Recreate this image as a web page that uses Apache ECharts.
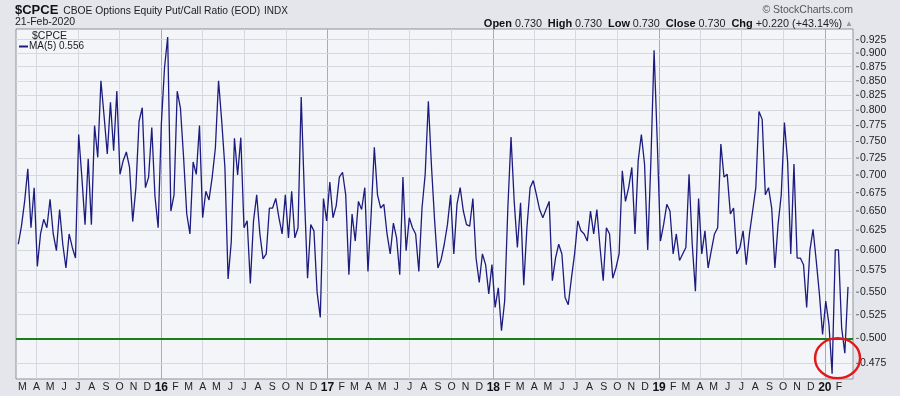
<!DOCTYPE html>
<html><head><meta charset="utf-8">
<script src="https://cdn.jsdelivr.net/npm/echarts@6/dist/echarts.min.js"></script>
<style>html,body{margin:0;padding:0;background:#e4e6eb}#c{width:900px;height:396px}</style>
</head><body><div id="c"></div>
<script>
// ---- data (weekly readings of the MA(5) line, Fridays) ----
const firstWeek = [2015, 1, 20];          // 20-Feb-2015
const putCallMA5 = [
0.607,0.630,0.663,0.709,0.628,0.682,0.580,0.620,0.639,0.628,
0.666,0.620,0.599,0.652,0.607,0.578,0.620,0.603,0.590,0.761,
0.697,0.632,0.724,0.632,0.775,0.726,0.850,0.790,0.731,0.813,
0.736,0.832,0.701,0.721,0.734,0.711,0.636,0.682,0.782,0.804,
0.682,0.697,0.772,0.670,0.628,0.777,0.873,0.930,0.650,0.672,
0.832,0.804,0.726,0.646,0.620,0.719,0.701,0.775,0.641,0.677,
0.665,0.697,0.740,0.850,0.782,0.711,0.565,0.610,0.755,0.700,
0.756,0.628,0.637,0.560,0.637,0.672,0.620,0.589,0.595,0.654,
0.654,0.667,0.641,0.620,0.672,0.615,0.677,0.615,0.628,0.822,
0.672,0.566,0.632,0.624,0.550,0.522,0.667,0.637,0.690,0.641,
0.657,0.697,0.704,0.672,0.570,0.646,0.611,0.663,0.652,0.682,
0.574,0.646,0.741,0.672,0.654,0.659,0.620,0.595,0.634,0.615,
0.570,0.697,0.599,0.641,0.628,0.620,0.574,0.654,0.701,0.815,
0.711,0.635,0.578,0.588,0.607,0.632,0.672,0.595,0.659,0.682,
0.650,0.632,0.630,0.667,0.590,0.561,0.595,0.582,0.548,0.582,
0.533,0.555,0.508,0.540,0.654,0.757,0.663,0.603,0.661,0.558,
0.628,0.682,0.692,0.672,0.652,0.641,0.652,0.663,0.563,0.590,
0.607,0.595,0.544,0.536,0.566,0.595,0.637,0.624,0.620,0.611,
0.650,0.620,0.652,0.603,0.563,0.628,0.620,0.566,0.578,0.595,
0.706,0.663,0.682,0.711,0.620,0.721,0.761,0.716,0.600,0.721,
0.905,0.750,0.611,0.632,0.659,0.650,0.595,0.620,0.587,0.595,
0.603,0.701,0.607,0.551,0.667,0.595,0.624,0.578,0.599,0.620,
0.628,0.746,0.697,0.701,0.646,0.654,0.595,0.603,0.624,0.582,
0.620,0.650,0.682,0.798,0.785,0.672,0.682,0.654,0.578,0.632,
0.672,0.780,0.720,0.595,0.716,0.590,0.590,0.582,0.533,0.599,
0.626,0.587,0.548,0.504,0.540,0.515,0.465,0.600,0.600,0.511,
0.485,0.556
];
const referenceLevel = 0.500;
const yTickValues = [0.475,0.500,0.525,0.550,0.575,0.600,0.625,0.650,0.675,0.700,0.725,0.750,0.775,0.800,0.825,0.850,0.875,0.900,0.925];
const monthLetters = ['J','F','M','A','M','J','J','A','S','O','N','D'];
const axisStart = [2015, 1, 15];
const axisEnd = [2020, 2, 3];
const firstMonth = [2015, 2];   // March 2015
const lastMonth = [2020, 1];    // February 2020
const quoteLabels = ['Open','High','Low','Close','Chg'];
const quoteValues = ['0.730','0.730','0.730','0.730','+0.220 (+43.14%)'];
const circleCenter = [[2020, 0, 29], 0.480];

// ---- build ----
const DAY = 86400000;
const t0 = Date.UTC(...firstWeek);
const seriesData = putCallMA5.map((v, i) => [t0 + i * 7 * DAY, v]);
const monthStarts = [];
const quarterStarts = [];
for (let y = firstMonth[0], m = firstMonth[1]; y < lastMonth[0] || (y === lastMonth[0] && m <= lastMonth[1]); ) {
  const t = Date.UTC(y, m, 1);
  monthStarts.push(t);
  if (m % 3 === 0) quarterStarts.push(t);
  m++; if (m > 11) { m = 0; y++; }
}
const lastVal = putCallMA5[putCallMA5.length - 1];
const seriesName = 'MA(5) ' + lastVal.toFixed(3);
const FONT = '"Liberation Sans", Arial, sans-serif';

const quoteText = quoteLabels.map((l, i) => '{k|' + l + '} {v|' + quoteValues[i] + '}').join('  ') + ' {u|▲}';

const chart = echarts.init(document.getElementById('c'), null, {renderer: 'canvas'});
chart.setOption({
  animation: false,
  backgroundColor: '#e4e6eb',
  textStyle: {fontFamily: FONT},
  title: [
    {left: 15, top: 3.5, padding: 0, text: '{a|$CPCE} {b|CBOE Options Equity Put/Call Ratio (EOD)} {c|INDX}',
     textStyle: {fontWeight: 'normal', fontSize: 10.5, fontFamily: FONT, rich: {
       a: {fontSize: 13, fontWeight: 'bold', color: '#111', fontFamily: FONT},
       b: {fontSize: 10.3, fontWeight: 'normal', color: '#222', fontFamily: FONT, padding: [2, 0, 0, 2]},
       c: {fontSize: 10, fontWeight: 'normal', color: '#222', fontFamily: FONT, padding: [2, 0, 0, 1]}}}},
    {left: 15, top: 17, padding: 0, text: '21-Feb-2020', textStyle: {fontSize: 10.5, fontWeight: 'normal', color: '#222', fontFamily: FONT}},
    {right: 47, top: 5, padding: 0, text: '© StockCharts.com', textStyle: {fontSize: 10.5, fontWeight: 'normal', color: '#555', fontFamily: FONT}},
    {right: 47, top: 18.5, padding: 0, text: quoteText,
     textStyle: {fontWeight: 'normal', fontSize: 10.5, fontFamily: FONT, rich: {
       k: {fontSize: 11, fontWeight: 'bold', color: '#111', fontFamily: FONT},
       v: {fontSize: 10.8, fontWeight: 'normal', color: '#222', fontFamily: FONT},
       u: {fontSize: 8, fontWeight: 'normal', color: '#999', fontFamily: FONT}}}},
    {left: 32, top: 31, padding: 0, text: '$CPCE', textStyle: {fontSize: 10.5, fontWeight: 'normal', color: '#222', fontFamily: FONT}}
  ],
  legend: {
    left: 19, top: 41.5, padding: 0, itemWidth: 9, itemHeight: 2, itemGap: 4,
    icon: 'rect',
    textStyle: {fontSize: 10, color: '#222', fontFamily: FONT, padding: [0, 0, 0, -4]},
    data: [seriesName]
  },
  grid: {left: 16, right: 47, top: 29, bottom: 17, show: true,
         backgroundColor: '#f4f5f9', borderColor: '#8d9199', borderWidth: 1},
  xAxis: {
    type: 'value',
    min: Date.UTC(...axisStart), max: Date.UTC(...axisEnd),
    axisLine: {show: false},
    axisTick: {show: false, customValues: quarterStarts},
    axisLabel: {
      customValues: monthStarts,
      margin: 3,
      fontSize: 10.5, color: '#222', fontFamily: FONT,
      formatter: function (v) {
        const d = new Date(v);
        const m = d.getUTCMonth();
        if (m === 0) return '{y|' + String(d.getUTCFullYear() % 100).padStart(2, '0') + '}';
        return monthLetters[m];
      },
      rich: {y: {fontSize: 12, fontWeight: 'bold', color: '#111', fontFamily: FONT}}
    },
    splitLine: {show: true, lineStyle: {width: 1, color: ['#d5d8df', '#d5d8df', '#d5d8df', '#a8acb4']}}
  },
  yAxis: {
    type: 'log', logBase: 10, min: 0.4599, max: 0.9456, position: 'right',
    axisLine: {show: false}, axisTick: {show: false}, axisLabel: {show: false}, splitLine: {show: false}
  },
  series: [
    {
      type: 'line', name: 'grid', data: [], silent: true,
      markLine: {
        silent: true, symbol: ['none', 'none'], animation: false, precision: 3,
        lineStyle: {color: '#d5d8df', width: 1, type: 'solid'},
        label: {show: true, position: 'end', distance: 3, formatter: '{t|}{v|{b}}',
          rich: {t: {width: 3, height: 1, backgroundColor: '#666'},
                 v: {fontSize: 10.5, color: '#222', fontFamily: FONT, padding: [0, 0, 0, 1]}}},
        emphasis: {disabled: true},
        data: yTickValues.map(v => ({yAxis: v, name: v.toFixed(3)}))
      }
    },
    {
      type: 'line', name: 'level', data: [], silent: true,
      markLine: {
        silent: true, symbol: ['none', 'none'], animation: false, precision: 3,
        lineStyle: {color: '#1b7c1b', width: 2, type: 'solid'},
        label: {show: false}, emphasis: {disabled: true},
        data: [{yAxis: referenceLevel}]
      }
    },
    {
      type: 'line', name: seriesName, data: seriesData, z: 10,
      showSymbol: false, symbol: 'none', silent: true,
      itemStyle: {color: '#1c1c7e'},
      lineStyle: {color: '#1c1c7e', width: 1.3}
    }
  ]
});

const cc = chart.convertToPixel({gridIndex: 0}, [Date.UTC(...circleCenter[0]), circleCenter[1]]);
chart.setOption({
  graphic: [{
    type: 'circle', x: cc[0], y: cc[1], scaleY: 20 / 22.5, z: 100, silent: true,
    shape: {cx: 0, cy: 0, r: 22.5},
    style: {fill: 'none', stroke: '#e0191c', lineWidth: 2.5, strokeNoScale: true}
  }]
});
</script>
</body></html>
